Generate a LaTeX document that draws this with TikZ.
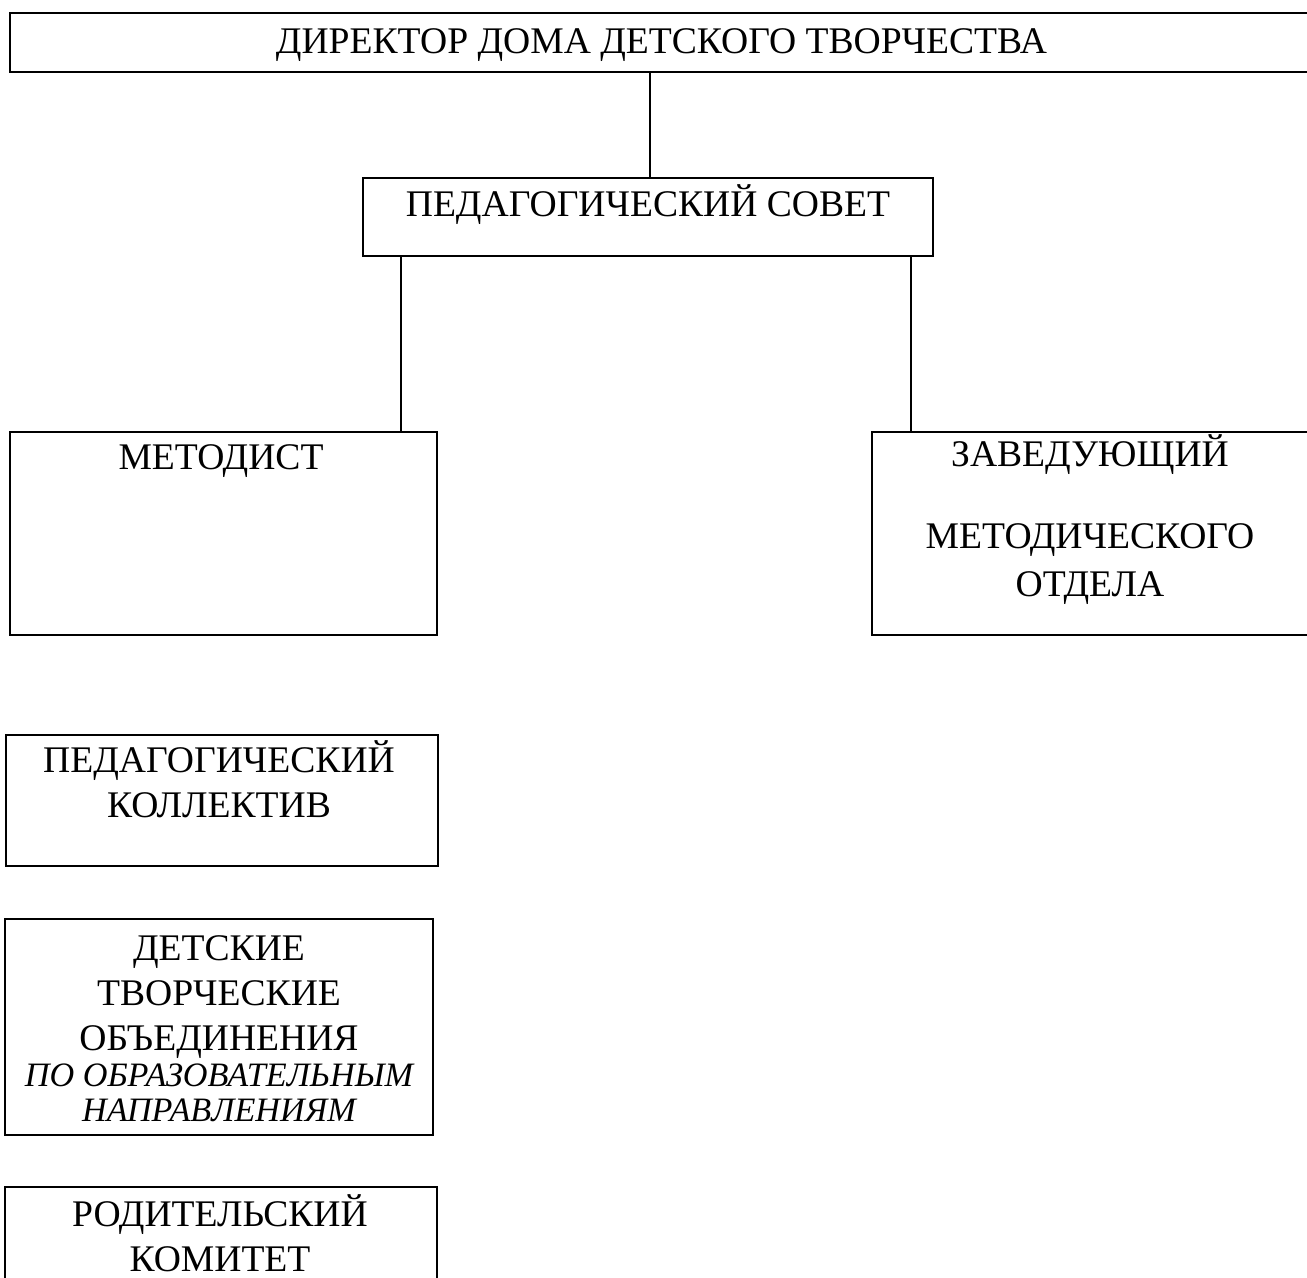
\documentclass[tikz,border=0pt]{standalone}
\usepackage{fontspec}
\setmainfont{Liberation Serif}
\usetikzlibrary{positioning}

% one pixel of the layout
\newcommand{\px}{0.5pt}
% smaller italic line
\newcommand{\subline}[1]{{\fontsize{17.1}{17.5}\itshape #1}}

\begin{document}
\begin{tikzpicture}[x=\px,y=-\px,line width=1pt,
    box/.style={draw,rectangle,inner sep=0pt},
    lbl/.style={align=center,inner sep=0pt,anchor=base,
                font=\fontsize{18.8}{22.5}\selectfont}]

	% page frame
	\useasboundingbox (0,0) rectangle (1307,1278);
	\clip (0,0) rectangle (1307,1278);

	% the boxes
	\node[box,minimum width=1310*\px,minimum height=59*\px] (dir) at (665,42.5) {};
	\node[box,minimum width=570*\px,minimum height=78*\px] (sovet) at (648,217) {};
	\node[box,minimum width=427*\px,minimum height=203*\px] (metod) at (223.5,533.5) {};
	\node[box,minimum width=448*\px,minimum height=203*\px] (zav) at (1096,533.5) {};
	\node[box,minimum width=432*\px,minimum height=131*\px] (koll) at (222,800.5) {};
	\node[box,minimum width=428*\px,minimum height=216*\px] (det) at (219,1027) {};
	\node[box,minimum width=432*\px,minimum height=113*\px] (rod) at (221,1243.5) {};

	% the texts (placed at their last baseline)
	\node[lbl] (dirtxt) at (661.5,54) {ДИРЕКТОР ДОМА ДЕТСКОГО ТВОРЧЕСТВА};
	\node[lbl] (sovtxt) at (648,216.5) {ПЕДАГОГИЧЕСКИЙ СОВЕТ};
	\node[lbl] (mettxt) at (221,470) {МЕТОДИСТ};
	\node[lbl,font=\fontsize{18.8}{24.2}\selectfont] (zavtxt) at (1090,596.7)
	      {ЗАВЕДУЮЩИЙ\\[16.6pt] МЕТОДИЧЕСКОГО\\ ОТДЕЛА};
	\node[lbl] (kolltxt) at (219,817.3) {ПЕДАГОГИЧЕСКИЙ\\ КОЛЛЕКТИВ};
	\node[lbl] (dettxt) at (219,1121.5)
	      {ДЕТСКИЕ\\ ТВОРЧЕСКИЕ\\ ОБЪЕДИНЕНИЯ\\[-4.5pt]
	       \subline{ПО ОБРАЗОВАТЕЛЬНЫМ}\\[-4.75pt] \subline{НАПРАВЛЕНИЯМ}};
	\node[lbl] (rodtxt) at (220,1271) {РОДИТЕЛЬСКИЙ\\ КОМИТЕТ};

	% the connectors
	\draw ([xshift=1pt]sovet.north) -- ([xshift=1pt]sovet.north |- dir.south);
	\draw ([xshift=39*\px]sovet.south west) -- ([xshift=39*\px]sovet.south west |- metod.north);
	\draw ([xshift=-23*\px]sovet.south east) -- ([xshift=-23*\px]sovet.south east |- zav.north);

\end{tikzpicture}
\end{document}
